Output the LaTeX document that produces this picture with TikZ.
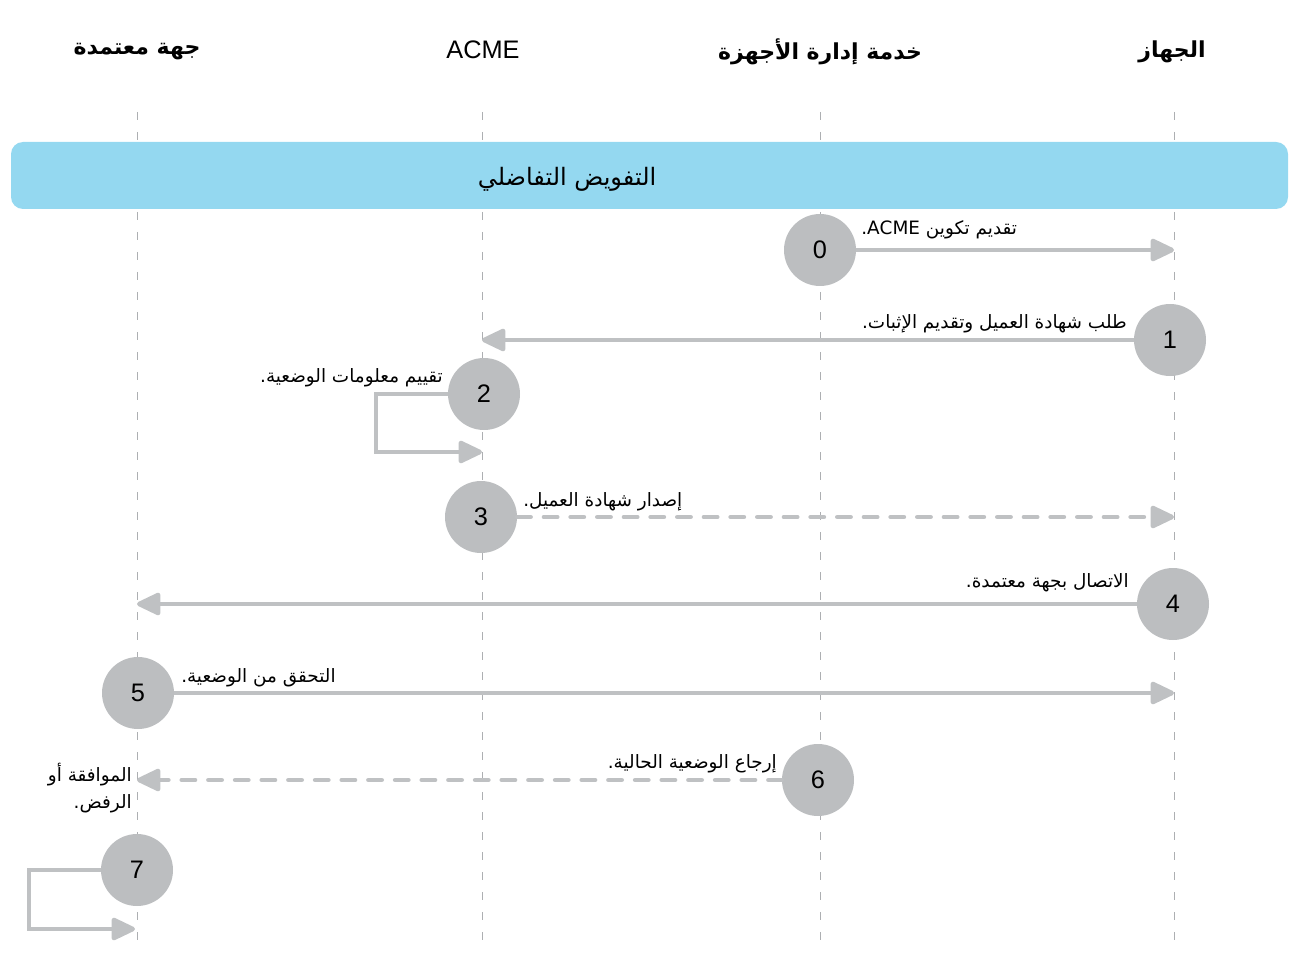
\documentclass[tikz,border=0pt]{standalone}
\usepackage{fontspec}
\setmainfont{Liberation Sans}
\newfontfamily\arabicfont[Script=Arabic]{DejaVu Sans}
\TeXXeTstate=1
\usetikzlibrary{arrows.meta,positioning}
\definecolor{stepgray}{HTML}{BCBEC0}
\definecolor{linegray}{HTML}{BFC1C3}
\definecolor{lifegray}{HTML}{ADAFB2}
\definecolor{barblue}{HTML}{94D8F0}
\newcommand{\artext}[1]{{\arabicfont\beginR #1\endR}}

\begin{document}
\begin{tikzpicture}[x=0.75pt,y=-0.75pt,
	head/.style={inner sep=0pt,font=\fontsize{19}{23}\selectfont},
	arhead/.style={inner sep=0pt,font=\fontsize{16.5}{20}\selectfont\bfseries},
	lifeline/.style={lifegray,line width=0.7pt,dash pattern=on 6pt off 9pt},
	stepnum/.style={circle,fill=stepgray,minimum size=54pt,inner sep=0pt,font=\fontsize{19}{20}\selectfont},
	msg/.style={linegray,line width=3.4pt,-{Triangle[length=20pt,width=18pt,round]}},
	reply/.style={msg,line cap=round,dash pattern=on 10pt off 10pt},
	lbl/.style={inner sep=0pt,font=\fontsize{13.8}{20}\selectfont}]
	\useasboundingbox (0,0) rectangle (1299,959);
	% lifelines
	\foreach \x in {137,482,820,1174} \draw[lifeline] (\x,112) -- (\x,945);
	\node[arhead] (hca) at (137,52) {\artext{جهة معتمدة}};
	\node[head] (hacme) at (483,50) {ACME};
	\node[arhead] (hmdm) at (820,52) {\artext{خدمة إدارة الأجهزة}};
	\node[arhead] (hdev) at (1172,52) {\artext{الجهاز}};
	% phase bar
	\fill[barblue,rounded corners=9pt] (11,142) rectangle (1288,209);
	\node[lbl,font=\fontsize{18}{20}\selectfont] (phase) at (567,179) {\artext{التفويض التفاضلي}};
	% steps
	\node[stepnum] (s0) at (820,250) {0};
	\node[stepnum] (s1) at (1170,340) {1};
	\node[stepnum] (s2) at (484,394) {2};
	\node[stepnum] (s3) at (481,517) {3};
	\node[stepnum] (s4) at (1173,604) {4};
	\node[stepnum] (s5) at (138,693) {5};
	\node[stepnum] (s6) at (818,780) {6};
	\node[stepnum] (s7) at (137,870) {7};
	\coordinate (e0) at (1174,250);
	\coordinate (e1) at (482,340);
	\coordinate (l2) at (376,452);
	\coordinate (e2) at (482,452);
	\coordinate (e3) at (1174,517);
	\coordinate (e4) at (137,604);
	\coordinate (e5) at (1174,693);
	\coordinate (e6) at (137,780);
	\coordinate (l7) at (29,929);
	\coordinate (e7) at (135,929);
	\draw[msg] (s0) -- (e0);
	\draw[msg] (s1) -- (e1);
	\draw[msg] (s2.west) -| (l2) -- (e2);
	\draw[reply] (s3) -- (e3);
	\draw[msg] (s4) -- (e4);
	\draw[msg] (s5) -- (e5);
	\draw[reply] (s6) -- (e6);
	\draw[msg] (s7.west) -| (l7) -- (e7);
	% labels
	\node[lbl,anchor=west] (t0) at (861,230) {\artext{تقديم تكوين \beginL ACME\endL.}};
	\node[lbl,anchor=east] (t1) at (1127,324) {\artext{طلب شهادة العميل وتقديم الإثبات.}};
	\node[lbl,anchor=east] (t2) at (443,378) {\artext{تقييم معلومات الوضعية.}};
	\node[lbl,anchor=west] (t3) at (523,502) {\artext{إصدار شهادة العميل.}};
	\node[lbl,anchor=east] (t4) at (1129,583) {\artext{الاتصال بجهة معتمدة.}};
	\node[lbl,anchor=west] (t5) at (181,678) {\artext{التحقق من الوضعية.}};
	\node[lbl,anchor=east] (t6) at (777,764) {\artext{إرجاع الوضعية الحالية.}};
	\node[lbl,anchor=east,align=right] (t7) at (132,788) {\artext{الموافقة أو}\\\artext{الرفض.}};
\end{tikzpicture}
\end{document}
